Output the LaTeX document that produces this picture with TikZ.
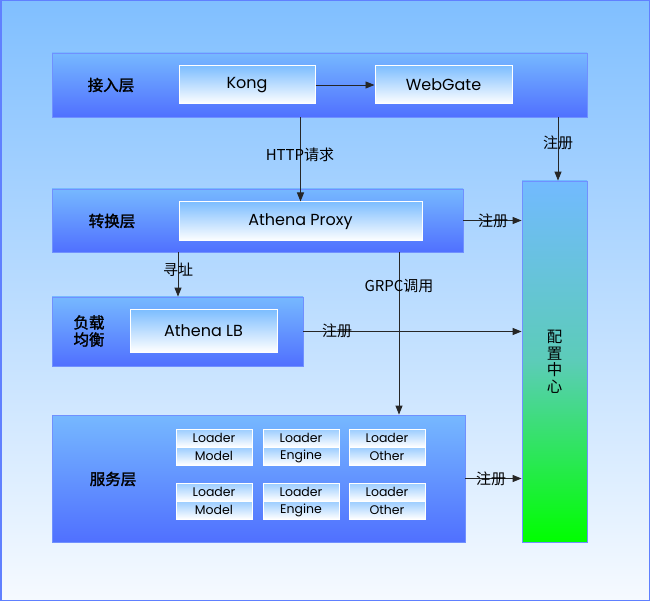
\documentclass[tikz,border=0pt]{standalone}
\usepackage{fontspec}
\setmainfont{Poppins}
\newfontfamily\cjk{Noto Sans CJK SC}
\newfontfamily\cjkb[FakeBold=1.8]{Noto Sans CJK SC}
\usetikzlibrary{arrows.meta}
\definecolor{bgtop}{HTML}{80BFFF}
\definecolor{bgbot}{HTML}{F6FAFF}
\definecolor{bgline}{HTML}{6080FF}
\definecolor{laytop}{HTML}{76B8FF}
\definecolor{laybot}{HTML}{5070FF}
\definecolor{layline}{HTML}{7090FF}
\definecolor{intop}{HTML}{7EBEFF}
\definecolor{celltop}{HTML}{9ACCFF}
\definecolor{cfgtop}{HTML}{72BAFF}
\definecolor{cfgmid}{HTML}{5CCCB8}
\definecolor{cfgbot}{HTML}{00FF00}
\begin{document}
\begin{tikzpicture}[x=1pt,y=-1pt,
  layerbox/.style={draw=layline, line width=0.8pt, top color=laytop, bottom color=laybot, inner sep=0pt},
  innerbox/.style={draw=white, line width=1pt, top color=intop, bottom color=white, inner sep=0pt, font=\fontsize{16}{19}\selectfont},
  cellbox/.style={draw=white, line width=0.8pt, top color=celltop, bottom color=white, inner sep=0pt, minimum width=76pt, minimum height=18pt, font=\fontsize{12.5}{14}\selectfont},
  laylabel/.style={font=\cjkb\fontsize{15.5}{17}\selectfont, align=center},
  reglabel/.style={font=\cjk\fontsize{15}{17}\selectfont, inner sep=0pt},
  arr/.style={-{Triangle[length=9pt,width=7pt]}, line width=0.9pt, draw=black!85}
]
% background
\path[use as bounding box, top color=bgtop, bottom color=bgbot] (0,0) rectangle (650,601);
\draw[bgline, line width=3pt] (0,0) rectangle (650,601);

% layers
\node[layerbox, minimum width=535pt, minimum height=64pt] (L1) at (319.5,85) {};
\node[layerbox, minimum width=411pt, minimum height=63pt] (L2) at (257.5,220.5) {};
\node[layerbox, minimum width=251pt, minimum height=69pt] (L3) at (177.5,331.5) {};
\node[layerbox, minimum width=413pt, minimum height=127pt] (L4) at (258.5,478.5) {};
\node[draw=layline, line width=0.8pt, top color=cfgtop, bottom color=cfgbot, middle color=cfgmid, minimum width=65pt, minimum height=361pt, inner sep=0pt] (cfg) at (554.5,361.5) {};
\node[font=\cjk\fontsize{15.5}{16.5}\selectfont, align=center] (cfgt) at (554.5,362) {配\\置\\中\\心};

% layer labels
\node[laylabel] (t1) at (111,85) {接入层};
\node[laylabel] (t2) at (112,221) {转换层};
\node[laylabel] (t3) at (89,331) {负载\\均衡};
\node[laylabel] (t4) at (113,479) {服务层};

% inner boxes
\node[innerbox, minimum width=136pt, minimum height=38pt] (kong) at (247,85) {Kong};
\node[innerbox, minimum width=137pt, minimum height=38pt] (web) at (443.5,85) {WebGate};
\node[innerbox, minimum width=243pt, minimum height=39pt] (proxy) at (300.5,221.5) {Athena Proxy};
\node[innerbox, minimum width=147pt, minimum height=42pt] (lb) at (203.5,331) {Athena LB};

% loader cells
\node[cellbox] (a1) at (214,438) {Loader};
\node[cellbox] (a2) at (214,456) {Model};
\node[cellbox] (b1) at (301,438) {Loader};
\node[cellbox] (b2) at (301,456) {Engine};
\node[cellbox] (c1) at (387,438) {Loader};
\node[cellbox] (c2) at (387,456) {Other};
\node[cellbox] (d1) at (214,492) {Loader};
\node[cellbox] (d2) at (214,510) {Model};
\node[cellbox] (e1) at (301,492) {Loader};
\node[cellbox] (e2) at (301,510) {Engine};
\node[cellbox] (f1) at (387,492) {Loader};
\node[cellbox] (f2) at (387,510) {Other};

% helper coordinates
\coordinate (xaddr) at (178,0);
\coordinate (xgrpc) at (399,0);
\coordinate (xreg) at (558,0);

% connectors
\draw[arr] (kong) -- (web);
\draw[arr] (L1.south -| proxy.north) -- (proxy.north);
\draw[arr] (L1.south -| xreg) -- (cfg.north -| xreg);
\draw[arr] (L2.east) -- (L2.east -| cfg.west);
\draw[arr] (L2.south -| xaddr) -- (L3.north -| xaddr);
\draw[arr] (L2.south -| xgrpc) -- (L4.north -| xgrpc);
\draw[arr] (L3.east) -- (L3.east -| cfg.west);
\draw[arr] (L4.east) -- (L4.east -| cfg.west);

% connector labels
\node[reglabel] (lhttp) at (300,155) {HTTP{\cjk 请求}};
\node[reglabel] (lreg1) at (558,143) {注册};
\node[reglabel] (lreg2) at (493,221) {注册};
\node[reglabel] (laddr) at (178,270) {寻址};
\node[reglabel] (lgrpc) at (399,286) {GRPC{\cjk 调用}};
\node[reglabel] (lreg3) at (337,331) {注册};
\node[reglabel] (lreg4) at (491,479) {注册};
\end{tikzpicture}
\end{document}
